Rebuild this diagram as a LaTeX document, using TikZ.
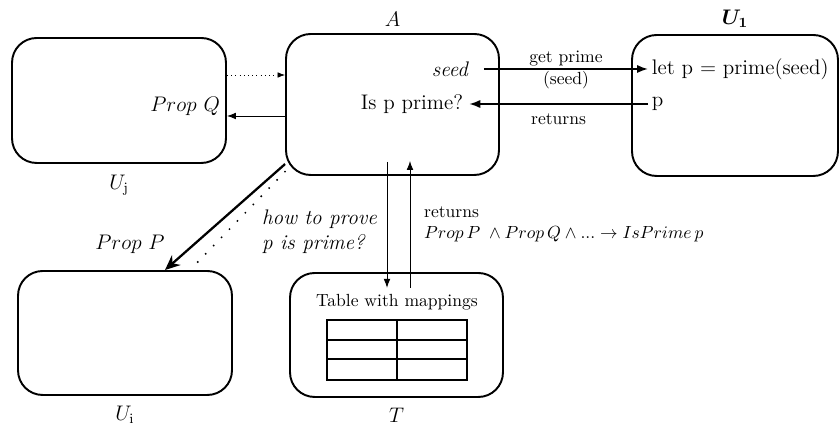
\documentclass[tikz,border=0pt]{standalone}
\usepackage{amsmath,amssymb}
\usepackage{tikz}
\usetikzlibrary{arrows.meta,positioning,calc}
\tikzset{
  unit/.style={draw, line width=1.1pt, rounded corners=14pt, minimum width=4.26cm, minimum height=2.48cm},
  tallunit/.style={unit, minimum height=2.82cm},
  arr/.style={-{Latex[length=2.2mm]}, line width=1pt},
  thinarr/.style={-{Latex[length=1.8mm]}, line width=0.55pt},
  lbl/.style={font=\normalsize, inner sep=1pt},
  boxlabel/.style={font=\large}}
\begin{document}
\begin{tikzpicture}[x=0.02cm, y=-0.02cm]
  \useasboundingbox (0,0) rectangle (840,428);
  % boxes
  \node[unit, minimum width=4.28cm, minimum height=2.5cm] (Uj) at (119,100.5) {};
  \node[tallunit] (A) at (392.5,104.5) {};
  \node[tallunit, minimum width=4.12cm] (U1) at (735,105.5) {};
  \node[unit, minimum width=4.28cm] (Ui) at (125,333) {};
  \node[unit] (T) at (396.5,335) {};
  % box names
  \node[boxlabel, above=0pt of A] {$A$};
  \node[boxlabel, above=0pt of U1] {$\boldsymbol{U_1}$};
  \node[boxlabel, below=3pt of Uj] {$U_{\mathrm{j}}$};
  \node[boxlabel, below=2pt of Ui] {$U_{\mathrm{i}}$};
  \node[boxlabel, below=2pt of T] {$T$};
  % texts in the boxes
  \node[font=\large\itshape, anchor=east] (seed) at (474,69) {seed};
  \node[font=\large] (isp) at (412,104) {Is p prime?};
  \node[font=\large, anchor=west, inner sep=2pt] (let) at (648,69) {let p = prime(seed)};
  \node[font=\large, anchor=west, inner sep=2pt] (p) at (648,104) {p};
  \node[font=\large, anchor=east, inner sep=1pt] (propq) at (222,106) {$Prop\ Q$};
  \node (tabtext) at (397,302) {Table with mappings};
  % table
  \draw[line width=1pt] (327,320) rectangle (467,380) (397,320) -- (397,380);
  \foreach \y in {340,359} \draw[line width=1pt] (327,\y) -- (467,\y);
  % A <-> U1
  \draw[arr] ([xshift=0.2cm]seed.east) -- (let.west)
    node[lbl, midway, above] {get prime} node[lbl, midway, below] {(seed)};
  \draw[arr] (p.west) -- (isp.east) node[lbl, midway, below=4pt] {returns};
  % A <-> Uj
  \draw[dotted, -{Latex[length=1.5mm]}] ([yshift=0.59cm]A.west -| Uj.east) -- ([yshift=0.59cm]A.west);
  \draw[thinarr] ([yshift=-0.23cm]A.west) -- ([yshift=-0.23cm]A.west -| Uj.east);
  % A -> Ui
  \draw[-{Stealth[length=3mm, width=2.6mm]}, line width=1.3pt] (A.209) -- ([xshift=0.8cm]Ui.north);
  \draw[line width=1.2pt, line cap=round, dash pattern=on 0pt off 6.5pt] (A.212) -- ([xshift=1.3cm]Ui.north);
  \node[font=\large] (propp) at (130,244) {$Prop\ P$};
  \node[font=\large\itshape, align=left, anchor=west] (howto) at (256,232) {how to prove\\p is prime?};
  % A <-> T
  \draw[thinarr] ([shift={(-0.11cm,0.28cm)}]A.south) -- ([xshift=-0.11cm]A.south |- tabtext.north);
  \draw[thinarr] ([xshift=0.35cm]A.south |- tabtext.north) -- ([shift={(0.35cm,0.3cm)}]A.south);
  \node[align=left, anchor=west] (ret) at (418,224)
    {returns\\$Prop\,P\;\land Prop\,Q \land ... \to IsPrime\,p$};
\end{tikzpicture}
\end{document}
